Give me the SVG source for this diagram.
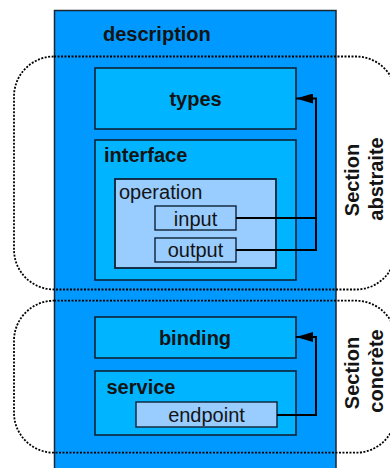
<svg xmlns="http://www.w3.org/2000/svg" width="390" height="468" viewBox="0 0 390 468">
  <style>
    .lvl0 { fill: #0099ff; stroke: #1c2530; stroke-width: 1.5; }
    .lvl1 { fill: #00b4ff; stroke: #0d2236; stroke-width: 1.6; }
    .lvl2 { fill: #99ccff; stroke: #0d2236; stroke-width: 1.8; }
    .lvl3 { fill: #99ccff; stroke: #0d2236; stroke-width: 1.4; }
    .section { fill: none; stroke: #000; stroke-width: 1.8; stroke-dasharray: 2 1.5; }
    .wire { fill: none; stroke: #000; stroke-width: 2; }
    text { font-family: "Liberation Sans", Arial, Helvetica, sans-serif; font-size: 20px; fill: #141414; }
    .b { font-weight: bold; }
    .mid { text-anchor: middle; }
  </style>
  <defs>
    <marker id="arrow" viewBox="0 0 17 10" refX="17" refY="5" markerWidth="17" markerHeight="10" markerUnits="userSpaceOnUse" orient="auto">
      <path d="M0,0 L17,5 L0,10 Z" fill="#000"/>
    </marker>
  </defs>

  <!-- WSDL document root -->
  <g id="description">
    <rect class="lvl0" x="54.5" y="10.5" width="281.5" height="470"/>
    <text class="b" x="103" y="40.5">description</text>
  </g>

  <!-- dotted groupings -->
  <g id="section-abstraite">
    <rect class="section" x="14" y="56.5" width="382" height="233" rx="40" ry="40"/>
    <text class="b mid" transform="translate(358.5,180) rotate(-90)">Section</text>
    <text class="b mid" transform="translate(383,179) rotate(-90)">abstraite</text>
  </g>
  <g id="section-concrete">
    <rect class="section" x="14" y="300.7" width="382" height="152" rx="40" ry="40"/>
    <text class="b mid" transform="translate(358.5,373) rotate(-90)">Section</text>
    <text class="b mid" transform="translate(383,371) rotate(-90)">concrète</text>
  </g>

  <g id="types">
    <rect class="lvl1" x="95" y="68" width="201" height="61"/>
    <text class="b mid" x="195.5" y="106">types</text>
  </g>

  <g id="interface">
    <rect class="lvl1" x="95" y="140" width="201" height="140"/>
    <text class="b" x="104" y="161.5">interface</text>
  </g>

  <g id="operation">
    <rect class="lvl2" x="115" y="179" width="161" height="89"/>
    <text x="119" y="199">operation</text>
  </g>

  <g id="input">
    <rect class="lvl3" x="155" y="206" width="81" height="24"/>
    <text class="mid" x="195.5" y="225.5">input</text>
  </g>

  <g id="output">
    <rect class="lvl3" x="155" y="238" width="81" height="24"/>
    <text class="mid" x="195.5" y="257">output</text>
  </g>

  <g id="binding">
    <rect class="lvl1" x="95" y="317" width="201" height="41"/>
    <text class="b mid" x="195" y="344.5">binding</text>
  </g>

  <g id="service">
    <rect class="lvl1" x="95" y="371" width="201" height="64"/>
    <text class="b" x="106.5" y="394">service</text>
  </g>

  <g id="endpoint">
    <rect class="lvl3" x="136" y="402" width="141" height="25"/>
    <text class="mid" x="206.5" y="421.5">endpoint</text>
  </g>

  <!-- references between components -->
  <g id="connectors">
    <path class="wire" d="M236,218 H316"/>
    <path class="wire" d="M236,250 H316 V98.5 H296" marker-end="url(#arrow)"/>
    <path class="wire" d="M277,415 H316 V337 H296" marker-end="url(#arrow)"/>
  </g>
</svg>
